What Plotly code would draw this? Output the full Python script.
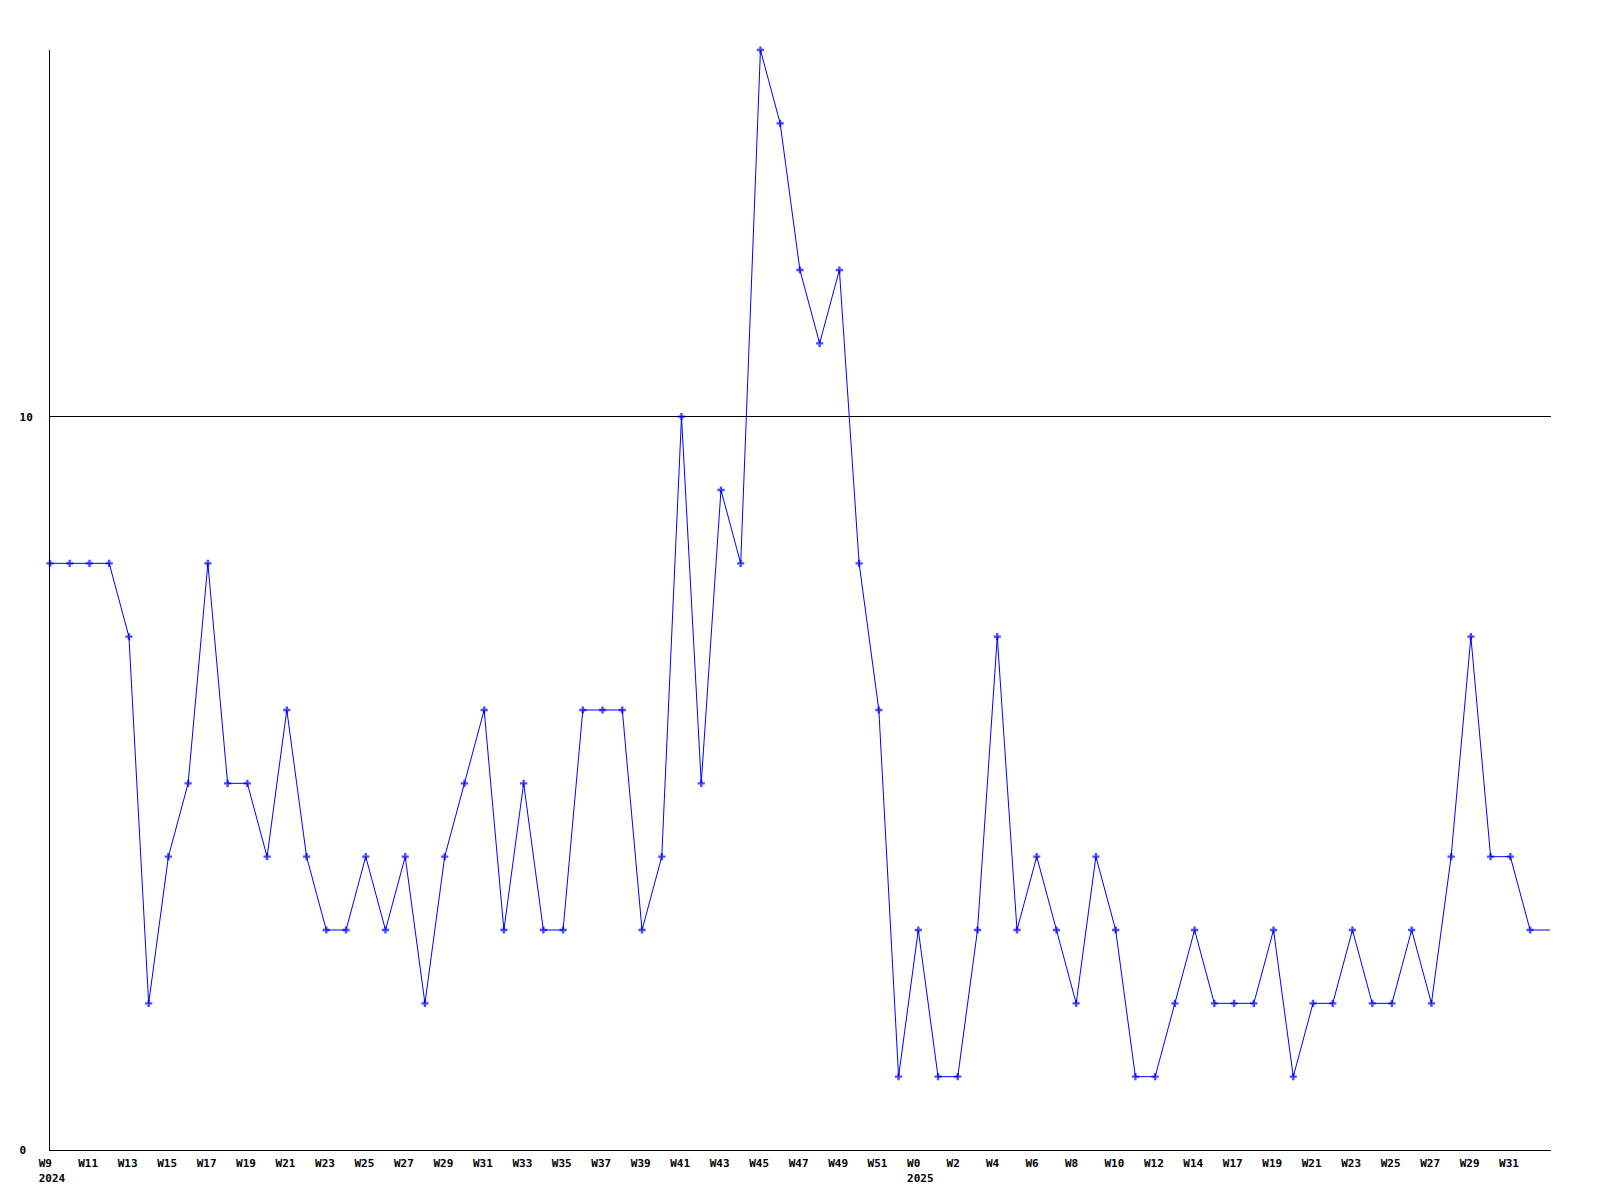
import plotly.graph_objects as go

# Week labels (categorical positions)
weeks_2024 = [f"W{w}" for w in range(9, 53)]          # W9..W52
weeks_2025 = [f"W{w}" for w in range(0, 16)] + [f"W{w}" for w in range(17, 34)]  # W0..W15, W17..W33
week_labels = weeks_2024 + weeks_2025

values = [8, 8, 8, 8, 7, 2, 4, 5, 8, 5,
          5, 4, 6, 4, 3, 3, 4, 3, 4, 2,
          4, 5, 6, 3, 5, 3, 3, 6, 6, 6,
          3, 4, 10, 5, 9, 8, 15, 14, 12, 11,
          12, 8, 6, 1, 3, 1, 1, 3, 7, 3,
          4, 3, 2, 4, 3, 1, 1, 2, 3, 2,
          2, 2, 3, 1, 2, 2, 3, 2, 2, 3,
          2, 4, 7, 4, 4, 3, 3]

y_tick_values = [0, 10]
y_tick_labels = ["0", "10"]

NB = "\u00a0"

n = len(values)
x = list(range(n))

# labels are left-aligned in the reference: pad to 4 monospace chars
tickvals = list(range(0, n - 1, 2))
ticktext = []
for i in tickvals:
    lab = week_labels[i].ljust(4, NB)
    if i == 0:
        lab += "<br>2024"
    elif i == len(weeks_2024):
        lab += "<br>2025"
    ticktext.append(lab)

y_ticktext = [t.ljust(2, NB) for t in y_tick_labels]

marker_sizes = [6] * (n - 1) + [0]

fig = go.Figure()
fig.add_trace(go.Scatter(
    x=x, y=values, mode="lines+markers",
    line=dict(color="#0000FF", width=1),
    marker=dict(symbol="cross", size=marker_sizes, color="#0000FF", line=dict(width=0)),
    cliponaxis=False,
    hoverinfo="skip",
))

font = dict(family="DejaVu Sans Mono", size=11, color="black", weight="bold")

# page body has an 8px default margin; compensate so the plot area lands where the reference has it
fig.update_layout(
    width=1584, height=1184,
    margin=dict(l=42, r=41, t=42, b=42, autoexpand=False),
    paper_bgcolor="white", plot_bgcolor="white",
    showlegend=False,
    font=font,
    xaxis=dict(
        range=[0, 76.06],
        tickmode="array", tickvals=tickvals, ticktext=ticktext,
        showgrid=False, zeroline=False,
        showline=True, linecolor="black", linewidth=1,
        ticks="", tickfont=font, automargin=False,
        ticklabelstandoff=3, ticklabelshift=2,
    ),
    yaxis=dict(
        range=[0, 15],
        tickmode="array", tickvals=y_tick_values, ticktext=y_ticktext,
        showgrid=True, gridcolor="black", gridwidth=1,
        zeroline=False,
        showline=True, linecolor="black", linewidth=1,
        ticks="", tickfont=font, ticklabelstandoff=14, automargin=False,
    ),
)

fig.write_html("out.html")
